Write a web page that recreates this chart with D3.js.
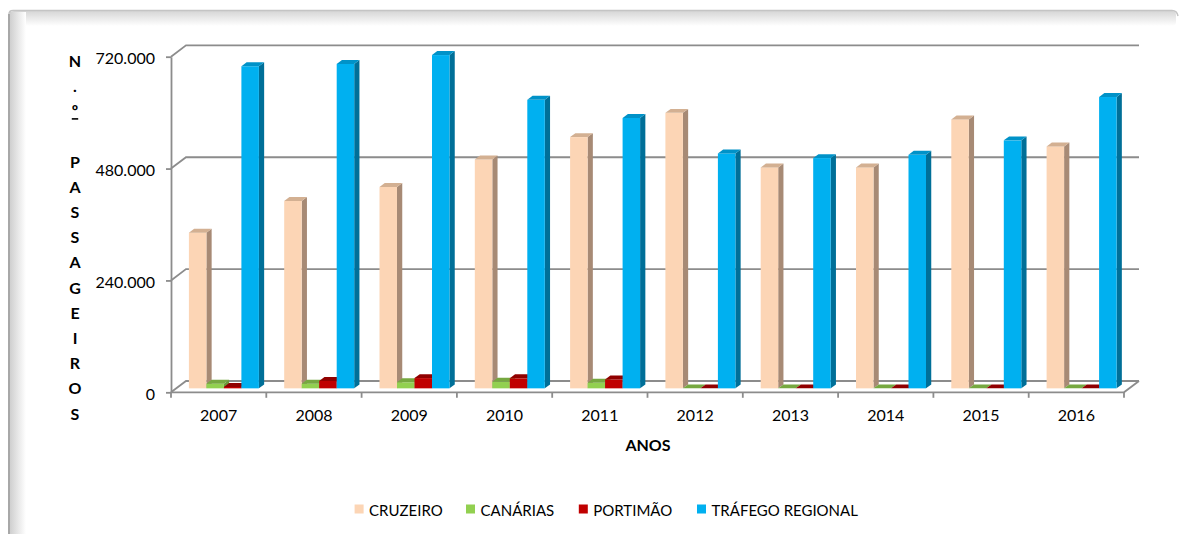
<!DOCTYPE html>
<html>
<head>
<meta charset="utf-8">
<script src="https://cdn.jsdelivr.net/npm/d3@7"></script>
<style>
  html, body { margin: 0; padding: 0; background: #ffffff; }
  svg { display: block; }
  text { font-family: Lato, "Open Sans", "DejaVu Sans", sans-serif; fill: #000; }
</style>
</head>
<body>
<svg id="chart" width="1179" height="534"></svg>
<script>
// ---------- data ----------
const years = ["2007","2008","2009","2010","2011","2012","2013","2014","2015","2016"];
const seriesNames = ["CRUZEIRO","CANÁRIAS","PORTIMÃO","TRÁFEGO REGIONAL"];
const cruzeiro = [334000, 402000, 432000, 491000, 539000, 591000, 474000, 474000, 577000, 519000];
const canarias = [10000, 10000, 13000, 14000, 12000, 0, 0, 0, 0, 0];
const portimao = [3000, 16000, 22000, 21500, 19000, 0, 0, 0, 0, 0];
const regional = [691000, 696000, 715000, 619000, 580000, 504000, 494000, 501000, 532000, 625000];
const yTicks = [0, 240000, 480000, 720000];
const yTitle = "N.º PASSAGEIROS";
const xTitle = "ANOS";

// ---------- styles ----------
const frontColors = ["#FCD5B5", "#92D050", "#C00000", "#00B0F0"];
const sideColors  = ["#A78A75", "#6B9A3B", "#820000", "#006F98"];
const topColors   = ["#D3B092", "#76A840", "#900000", "#0092C8"];
const gridColor = "#8c8c8c";

const seriesValues = [cruzeiro, canarias, portimao, regional];

const svg = d3.select("#chart");
const defs = svg.append("defs");

// ---------- frame ----------
const gTop = defs.append("linearGradient").attr("id","gTop").attr("x1",0).attr("y1",0).attr("x2",0).attr("y2",1);
gTop.append("stop").attr("offset","0%").attr("stop-color","#d6d6d6");
gTop.append("stop").attr("offset","100%").attr("stop-color","#ffffff");
const gLeft = defs.append("linearGradient").attr("id","gLeft").attr("x1",0).attr("y1",0).attr("x2",1).attr("y2",0);
gLeft.append("stop").attr("offset","0%").attr("stop-color","#cfcfcf");
gLeft.append("stop").attr("offset","100%").attr("stop-color","#ffffff");

svg.append("rect").attr("x",0).attr("y",0).attr("width",1179).attr("height",534).attr("fill","#fff");
svg.append("rect").attr("x",10).attr("y",11).attr("width",1166).attr("height",15).attr("fill","url(#gTop)").attr("rx",4);
svg.append("rect").attr("x",10).attr("y",12).attr("width",16).attr("height",530).attr("fill","url(#gLeft)");
svg.append("path").attr("d","M9,540 L9,14 Q9,10.5 13,10.5 L1172,10.5 Q1177,10.5 1178,16")
  .attr("fill","none").attr("stroke","#c4c4c4").attr("stroke-width",1.5);
svg.append("line").attr("x1",9).attr("x2",9).attr("y1",14).attr("y2",534).attr("stroke","#a8a8a8").attr("stroke-width",2);

// ---------- geometry ----------
const x0Left = 171, x0Right = 1124;
const depth = {dx: 15, dy: -11.3};
const f1 = 0.35, f2 = 0.70;

const yFront = d3.scaleLinear().domain([0, 720000]).range([392.3, 56.7]);
const pad = 0.2655;
const x0 = d3.scaleBand().domain(years).range([x0Left, x0Right]).paddingInner(pad).paddingOuter(pad/2);
const x1 = d3.scaleBand().domain(seriesNames).range([0, x0.bandwidth()]).padding(0);

const ptLocale = d3.formatLocale({decimal: ",", thousands: ".", grouping: [3], currency: ["€",""]});
const fmt = ptLocale.format(",.0f");

const grid = svg.append("g");
yTicks.forEach(t => {
  const yf = yFront(t);
  grid.append("path")
    .attr("d", `M${x0Left},${yf} L${x0Left+depth.dx},${yf+depth.dy} L${x0Right+depth.dx},${yf+depth.dy}`)
    .attr("fill","none").attr("stroke",gridColor).attr("stroke-width",1.8);
});
grid.append("path")
  .attr("d", `M${x0Left},${yFront(0)} L${x0Right},${yFront(0)} L${x0Right+depth.dx},${yFront(0)+depth.dy}`)
  .attr("fill","none").attr("stroke",gridColor).attr("stroke-width",1.8);
const bounds = years.map(y => x0(y) - x0.step()*pad/2).concat([x0Right]);
grid.selectAll("line.ctick").data(bounds).join("line").attr("class","ctick")
  .attr("x1", d=>d).attr("x2", d=>d).attr("y1", yFront(0)).attr("y2", yFront(0)+5.5)
  .attr("stroke", gridColor).attr("stroke-width",1.8);

// y axis (front)
const yAxis = d3.axisLeft(yFront).tickValues(yTicks).tickSize(5).tickSizeOuter(0).tickPadding(11).tickFormat(d => fmt(d));
const gy = svg.append("g").attr("transform", `translate(${x0Left},0)`).call(yAxis);
gy.select(".domain").attr("stroke", gridColor).attr("stroke-width",1.8);
gy.selectAll(".tick line").attr("stroke", gridColor).attr("stroke-width",1.8);
gy.selectAll(".tick text").attr("font-size",16).attr("font-family","Lato, 'Open Sans', sans-serif").attr("fill","#000").attr("dy","0.45em");

// ---------- bars ----------
const bx = (f2-f1)*depth.dx, by = (f2-f1)*depth.dy;
const barsG = svg.append("g");
years.forEach((yr, i) => {
  seriesNames.forEach((s, k) => {
    const v = seriesValues[k][i];
    const xL = x0(yr) + x1(s) + f1*depth.dx;
    const w = x1.bandwidth();
    const yT = yFront(v) + f1*depth.dy;
    const yB = yFront(0) + f1*depth.dy;
    const g = barsG.append("g");
    if (v > 0) {
      g.append("path")
        .attr("d", `M${xL+w},${yT} L${xL+w+bx},${yT+by} L${xL+w+bx},${yB+by} L${xL+w},${yB} Z`)
        .attr("fill", sideColors[k]);
      g.append("rect").attr("x", xL).attr("y", yT).attr("width", w).attr("height", yB-yT)
        .attr("fill", frontColors[k]);
    }
    g.append("path")
      .attr("d", `M${xL},${yT} L${xL+bx},${yT+by} L${xL+w+bx},${yT+by} L${xL+w},${yT} Z`)
      .attr("fill", topColors[k]);
  });
});

// ---------- x axis labels ----------
const xAxis = d3.axisBottom(x0.copy().paddingInner(0).paddingOuter(0)).tickSize(0).tickPadding(17);
const gx = svg.append("g").attr("transform", `translate(0,${yFront(0)})`).call(xAxis);
gx.select(".domain").remove();
gx.selectAll(".tick text").attr("font-size",16).attr("font-family","Lato, 'Open Sans', sans-serif").attr("fill","#000");

// axis titles
svg.append("text").attr("x", 648).attr("y", 451).attr("text-anchor","middle")
  .attr("font-size",16).attr("font-weight","bold").text(xTitle);

const yt = svg.append("text").attr("font-size",16).attr("font-weight","bold").attr("text-anchor","middle");
Array.from(yTitle).forEach((ch, i) => {
  const ts = yt.append("tspan").attr("x", 75).attr("y", 66.7 + i*25.2).text(ch === " " ? "\u00A0" : ch);
  if (ch === "º") ts.attr("text-decoration", "underline");
});

// ---------- legend ----------
const legendX = [354.6, 466, 578.8, 697];
const lg = svg.append("g");
seriesNames.forEach((s, k) => {
  lg.append("rect").attr("x", legendX[k]).attr("y", 504.5).attr("width", 9).attr("height", 9).attr("fill", frontColors[k]);
  lg.append("text").attr("x", legendX[k] + 14.5).attr("y", 515.5).attr("font-size", 15).text(s);
});
</script>
</body>
</html>
